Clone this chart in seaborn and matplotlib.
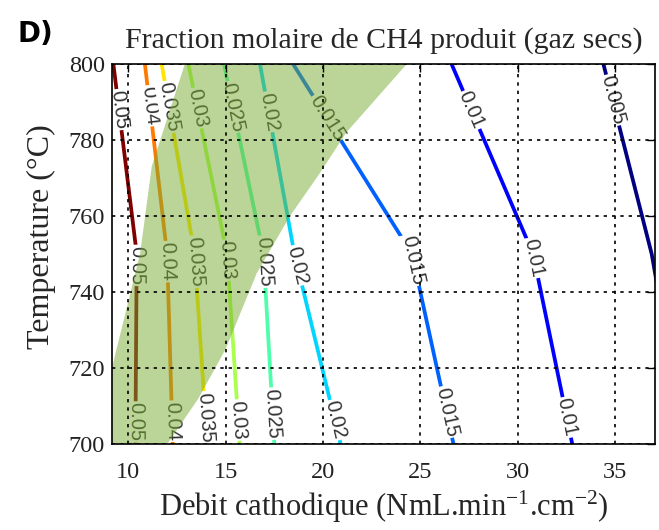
import numpy as np
import pandas as pd
import matplotlib
matplotlib.use("Agg")
import matplotlib.pyplot as plt
import seaborn as sns

# Iso-lines of CH4 mole fraction: cathodic flow (x) reached at each temperature node
levels = [0.05, 0.04, 0.035, 0.03, 0.025, 0.02, 0.015, 0.01, 0.005]
level_text = ["0.05", "0.04", "0.035", "0.03", "0.025", "0.02", "0.015", "0.01", "0.005"]
temp_nodes = [800, 750, 700]
flow_at_800 = [9.23, 10.85, 11.71, 13.08, 14.91, 16.76, 18.46, 26.6, 34.4]
flow_at_750 = [10.43, 11.99, 13.40, 15.07, 16.94, 18.53, 24.57, 30.79, 36.88]
flow_at_700 = [10.36, 12.28, 14.05, 15.72, 17.50, 20.90, 26.70, 32.80, 38.6]

# Temperatures where the inline labels sit on each iso-line
label_temp_top = [788, 789, 788.7, 788.4, 788.7, 787.4, 785.8, 787.9, 790.5]
label_temp_mid = [747, 748, 748, 748.4, 748, 747, 748.4, 749, None]
label_temp_low = [705.8, 706, 707, 706.3, 708, 706.3, 708.4, 707, None]

# Shaded operating zone (left and right boundaries)
zone_left_temp = [800, 773, 750, 723, 700]
zone_left_flow = [12.9, 11.2, 10.6, 9.3, 8.2]
zone_right_temp = [700, 712, 725, 745, 760, 771, 782, 800]
zone_right_flow = [12.0, 13.6, 15.0, 16.6, 18.3, 19.8, 21.2, 24.3]

x_ticks = [10, 15, 20, 25, 30, 35]
y_ticks = [700, 720, 740, 760, 780, 800]

sns.set_style("white")
plt.rcParams["font.family"] = ["Liberation Serif", "DejaVu Serif"]
plt.rcParams["mathtext.fontset"] = "custom"
plt.rcParams["mathtext.rm"] = "Liberation Serif"
plt.rcParams["mathtext.it"] = "Liberation Serif:italic"

cmap = matplotlib.colormaps["jet"]
norm = matplotlib.colors.Normalize(vmin=min(levels), vmax=max(levels))
palette = {t: cmap(norm(v)) for t, v in zip(level_text, levels)}

rows = []
for t, a, b, c in zip(level_text, flow_at_800, flow_at_750, flow_at_700):
    for T, x in zip(temp_nodes, (a, b, c)):
        rows.append({"level": t, "flow": x, "temp": T})
lines_df = pd.DataFrame(rows)

fig = plt.figure(figsize=(6.59, 5.30), dpi=100)
ax = fig.add_axes([112 / 659, 1 - 444 / 530, (655 - 112) / 659, (444 - 64) / 530])

sns.lineplot(data=lines_df, x="flow", y="temp", hue="level", palette=palette,
             units="level", estimator=None, sort=False, legend=False,
             linewidth=2.7, ax=ax, zorder=2)

ax.set_xlim(9.16, 37.05)
ax.set_ylim(700, 800)
ax.set_xticks(x_ticks)
ax.set_yticks(y_ticks)

# Inline labels, rotated along their line
fig.canvas.draw()
for i, t in enumerate(level_text):
    T_nodes = np.array(temp_nodes[::-1], dtype=float)
    X_nodes = np.array([flow_at_700[i], flow_at_750[i], flow_at_800[i]])
    for T_lab in (label_temp_top[i], label_temp_mid[i], label_temp_low[i]):
        if T_lab is None:
            continue
        x_lab = np.interp(T_lab, T_nodes, X_nodes)
        k = 0 if T_lab < 750 else 1
        p_lo = ax.transData.transform((X_nodes[k], T_nodes[k]))
        p_hi = ax.transData.transform((X_nodes[k + 1], T_nodes[k + 1]))
        d = p_lo - p_hi
        ang = np.degrees(np.arctan2(d[1], d[0]))
        ax.text(x_lab, T_lab, t, rotation=ang, rotation_mode="anchor",
                ha="center", va="center", fontsize=14.5,
                family=["Liberation Sans", "DejaVu Sans"], color="#333333",
                bbox=dict(boxstyle="square,pad=0.06", fc="white", ec="none"),
                zorder=3, clip_on=True)

# Shaded zone drawn over the iso-lines
poly_x = list(zone_left_flow) + list(zone_right_flow)
poly_y = list(zone_left_temp) + list(zone_right_temp)
ax.fill(poly_x, poly_y, color=(0.466, 0.674, 0.188), alpha=0.5, lw=0, zorder=4)

ax.grid(True, color="black", linestyle=(0, (2, 3)), linewidth=1.2)
ax.xaxis.set_zorder(5)
ax.yaxis.set_zorder(5)
for s in ax.spines.values():
    s.set_color("black")
    s.set_linewidth(1.2)
    s.set_zorder(6)
    s.set_visible(True)

ax.tick_params(direction="in", top=True, right=True, length=6, width=1,
               labelsize=17.5, colors="black", labelcolor="#222222")
ax.tick_params(axis="x", pad=13)
ax.tick_params(axis="y", pad=5)

ax.set_title("Fraction molaire de CH4 produit (gaz secs)", fontsize=21.5, pad=12)
ax.set_xlabel("Debit cathodique (NmL.min$^{-1}$.cm$^{-2}$)", fontsize=22, labelpad=4)
ax.set_ylabel("Temperature (°C)", fontsize=23)
ax.yaxis.set_label_coords(-0.104, 0.545)

fig.text(18 / 659, 1 - 42 / 530, "D)", fontsize=20, fontweight="bold",
         family=["DejaVu Sans"], color="black")

fig.savefig("out.png", dpi=100)
